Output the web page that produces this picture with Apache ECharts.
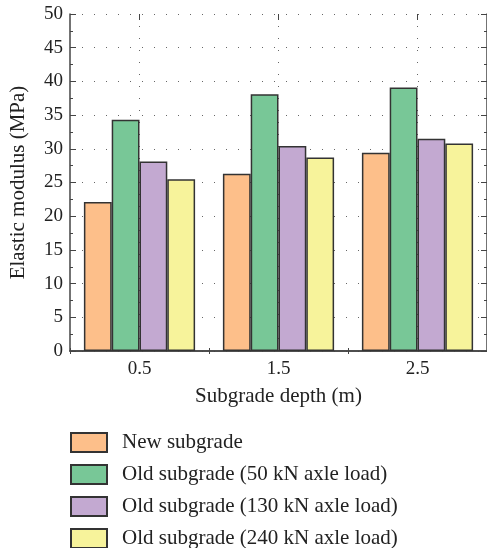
<!DOCTYPE html>
<html>
<head>
<meta charset="utf-8">
<script src="https://cdn.jsdelivr.net/npm/echarts@6/dist/echarts.min.js"></script>
<style>
  html, body { margin: 0; padding: 0; background: #fff; }
  #main { width: 487px; height: 548px; }
</style>
</head>
<body>
<div id="main"></div>
<script>
// data
const depths = ['0.5', '1.5', '2.5'];
const seriesNames = [
  'New subgrade',
  'Old subgrade (50 kN axle load)',
  'Old subgrade (130 kN axle load)',
  'Old subgrade (240 kN axle load)'
];
const newSubgrade = [22.1, 26.3, 29.4];
const old50 = [34.3, 38.1, 39.1];
const old130 = [28.1, 30.4, 31.5];
const old240 = [25.5, 28.7, 30.8];
const colors = ['#fdbf8a', '#78c797', '#c3a9d1', '#f7f39b'];

const font = 'Liberation Serif';
const frame = '#444';
const dotted = { color: '#666', width: 1, type: [1, 11] };

var myChart = echarts.init(document.getElementById('main'));

const values = [newSubgrade, old50, old130, old240];
const series = values.map((v, i) => ({
  name: seriesNames[i],
  type: 'bar',
  data: v,
  barCategoryGap: '20%',
  barGap: '0%',
  itemStyle: { color: colors[i], borderColor: '#333', borderWidth: 1.5 }
}));

const yCommon = {
  type: 'value',
  min: 0,
  max: 50,
  interval: 5,
  axisLine: { show: true, lineStyle: { color: frame, width: 1.5 } },
  axisTick: { show: true, inside: true, length: 6, lineStyle: { color: frame } },
  minorTick: { show: true, splitNumber: 2, length: 3, lineStyle: { color: frame } }
};

var option = {
  animation: false,
  textStyle: { fontFamily: font },
  grid: { left: 70, top: 14, bottom: 197, right: -2 },
  legend: {
    orient: 'vertical',
    left: 70,
    top: 432,
    width: 400,
    height: 140,
    padding: 0,
    icon: 'rect',
    itemWidth: 36,
    itemHeight: 19,
    itemGap: 11,
    data: seriesNames,
    textStyle: { fontFamily: font, fontSize: 21, lineHeight: 19, color: '#222', padding: [0, 0, 0, 10] }
  },
  xAxis: [
    {
      type: 'category',
      data: depths,
      position: 'bottom',
      name: 'Subgrade depth (m)',
      nameLocation: 'middle',
      nameGap: 35,
      nameTextStyle: { fontFamily: font, fontSize: 21, color: '#222' },
      axisLine: { lineStyle: { color: frame, width: 1.5 } },
      axisTick: { show: true, inside: true, length: 3, lineStyle: { color: frame } },
      axisLabel: { fontFamily: font, fontSize: 19, color: '#222', margin: 9 },
      splitLine: { show: false }
    },
    {
      type: 'category',
      data: depths,
      position: 'top',
      axisLine: { lineStyle: { color: frame, width: 1.5 } },
      axisTick: { show: true, inside: true, length: 3, lineStyle: { color: frame } },
      axisLabel: { show: false },
      splitLine: { show: true, alignWithLabel: true, lineStyle: dotted }
    },
    {
      type: 'category',
      data: depths,
      position: 'top',
      axisLine: { show: false },
      axisTick: { show: true, inside: true, length: 6, alignWithLabel: true, lineStyle: { color: frame } },
      axisLabel: { show: false },
      splitLine: { show: false }
    }
  ],
  yAxis: [
    Object.assign({}, yCommon, {
      position: 'left',
      name: 'Elastic modulus (MPa)',
      nameLocation: 'middle',
      nameGap: 41,
      nameTextStyle: { fontFamily: font, fontSize: 21, color: '#222' },
      axisLabel: { fontFamily: font, fontSize: 19, color: '#222', margin: 7 },
      splitLine: { show: true, lineStyle: dotted }
    }),
    Object.assign({}, yCommon, {
      position: 'right',
      axisLabel: { show: false },
      splitLine: { show: false }
    })
  ],
  series: series
};

myChart.setOption(option);
</script>
</body>
</html>
